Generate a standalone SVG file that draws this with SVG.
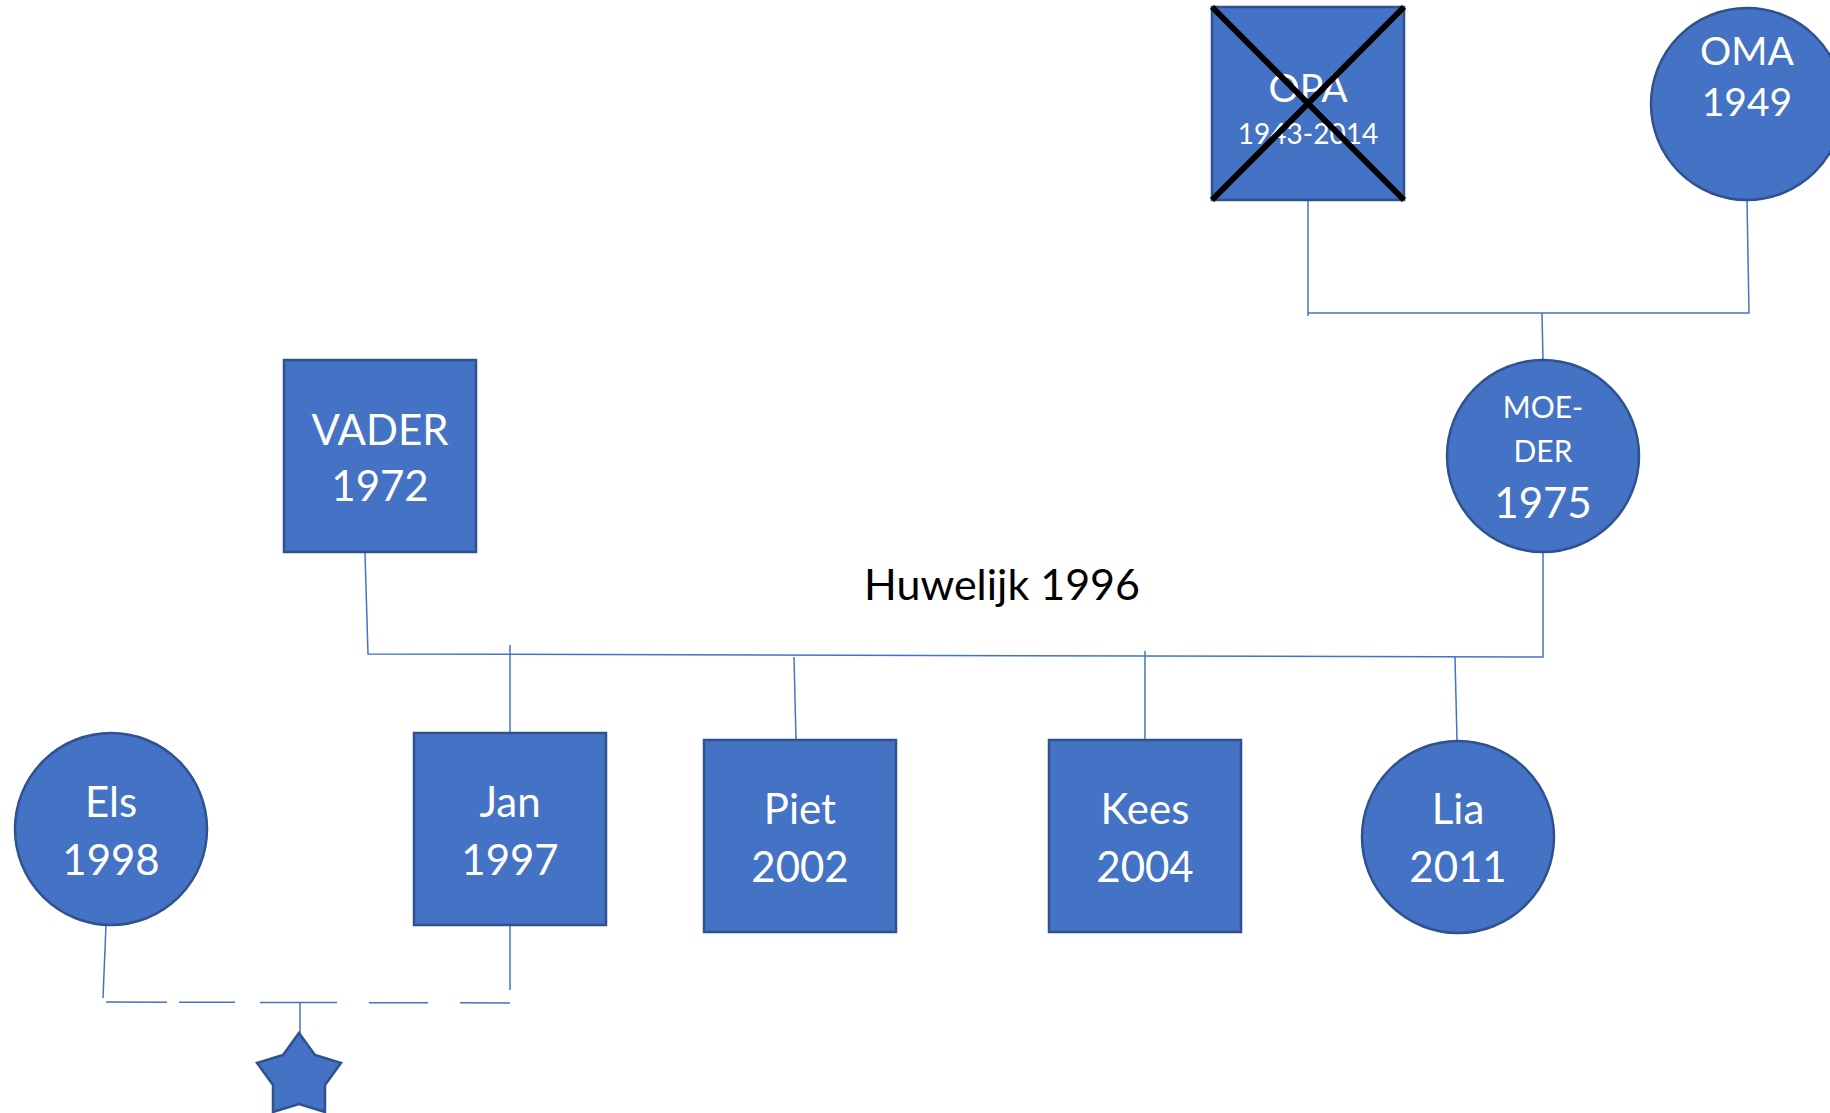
<svg xmlns="http://www.w3.org/2000/svg" width="1830" height="1113" viewBox="0 0 1830 1113">
<style>
.n{fill:#4472C4;stroke:#2F528F;stroke-width:2.5}
.t{fill:#FFFFFF;font-family:Lato,"Liberation Sans",sans-serif;text-anchor:middle}
.c{stroke:#4472C4;stroke-width:1.5;fill:none}
.big{font-size:42px}
.mid{font-size:39px}
.sm{font-size:28px}
.ms{font-size:30px}
</style>
<rect width="1830" height="1113" fill="#FFFFFF"/>
<g id="connectors">
<polyline class="c" points="1308,200 1308,316"/>
<polyline class="c" points="1308,313 1749,313 1747,200"/>
<line class="c" x1="1542" y1="313" x2="1543" y2="360"/>
<polyline class="c" points="365,553 368,654 1543,657 1543,553"/>
<line class="c" x1="510" y1="645" x2="510" y2="733"/>
<line class="c" x1="794" y1="657" x2="796" y2="740"/>
<line class="c" x1="1145" y1="651" x2="1145" y2="740"/>
<line class="c" x1="1455" y1="657" x2="1457" y2="740"/>
<line class="c" x1="106" y1="925" x2="103" y2="998"/>
<line class="c" x1="510" y1="925" x2="510" y2="990"/>
<line class="c" x1="106" y1="1002" x2="511" y2="1003" stroke-dasharray="61 12 56 25 77 32 59 32 50"/>
<line class="c" x1="300" y1="1002" x2="300" y2="1034"/>
</g>
<g id="opa">
<rect class="n" x="1212" y="7" width="192" height="193"/>
<text class="t mid" x="1308" y="102">OPA</text>
<text class="t sm" x="1308" y="144">1943-2014</text>
<line x1="1212" y1="7" x2="1404" y2="200" stroke="#000" stroke-width="6"/>
<line x1="1404" y1="7" x2="1212" y2="200" stroke="#000" stroke-width="6"/>
</g>
<g id="oma">
<circle class="n" cx="1747" cy="104" r="96"/>
<text class="t mid" x="1747" y="65">OMA</text>
<text class="t mid" x="1747" y="116">1949</text>
</g>
<g id="moeder">
<circle class="n" cx="1543" cy="456" r="96"/>
<text class="t ms" x="1543" y="418">MOE-</text>
<text class="t ms" x="1543" y="462">DER</text>
<text class="t big" x="1543" y="518">1975</text>
</g>
<g id="vader">
<rect class="n" x="284" y="360" width="192" height="192"/>
<text class="t big" x="380" y="445">VADER</text>
<text class="t big" x="380" y="501">1972</text>
</g>
<g id="huwelijk">
<text x="1002" y="600" font-family="Lato,'Liberation Sans',sans-serif" font-size="43px" fill="#000" text-anchor="middle">Huwelijk 1996</text>
</g>
<g id="els">
<circle class="n" cx="111" cy="829" r="96"/>
<text class="t big" x="111" y="817">Els</text>
<text class="t big" x="111" y="875">1998</text>
</g>
<g id="jan">
<rect class="n" x="414" y="733" width="192" height="192"/>
<text class="t big" x="510" y="817">Jan</text>
<text class="t big" x="510" y="875">1997</text>
</g>
<g id="piet">
<rect class="n" x="704" y="740" width="192" height="192"/>
<text class="t big" x="800" y="824">Piet</text>
<text class="t big" x="800" y="882">2002</text>
</g>
<g id="kees">
<rect class="n" x="1049" y="740" width="192" height="192"/>
<text class="t big" x="1145" y="824">Kees</text>
<text class="t big" x="1145" y="882">2004</text>
</g>
<g id="lia">
<circle class="n" cx="1458" cy="837" r="96"/>
<text class="t big" x="1458" y="824">Lia</text>
<text class="t big" x="1458" y="882">2011</text>
</g>
<g id="star">
<polygon class="n" points="299,1033 315,1055 341,1063 325,1085 325,1112 299,1104 273,1112 273,1085 257,1063 283,1055"/>
</g>
</svg>
